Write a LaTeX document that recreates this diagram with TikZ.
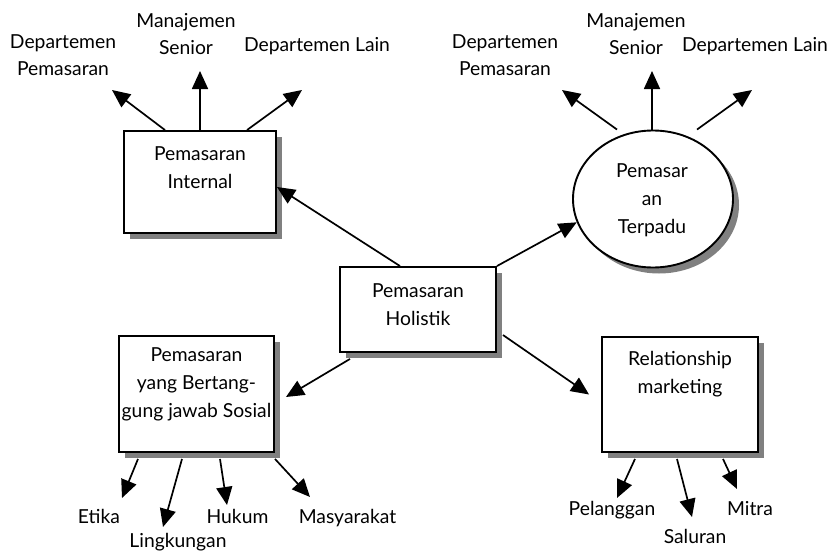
\documentclass[tikz,border=0pt]{standalone}
\usepackage{fontspec}
\setmainfont{Lato}
\usetikzlibrary{arrows.meta,shapes.geometric,shadows,calc}
\begin{document}
\begin{tikzpicture}[x=1pt,y=-1pt,
  every node/.style={font=\fontsize{19.3}{27.8}\selectfont, inner sep=0pt},
  boxshape/.style={draw, line width=1.9pt, fill=white,
    general shadow={fill=black!50, shadow xshift=6pt, shadow yshift=-6pt}},
  txt/.style={anchor=base, align=center},
  arr/.style={line width=1.7pt, -{Triangle[length=18pt,width=16pt]}}]
\useasboundingbox (0,0) rectangle (838,551);

% boxes
\node[boxshape, rectangle, minimum width=152pt, minimum height=102pt] (intl) at (200,182) {};
\node[boxshape, rectangle, minimum width=156pt, minimum height=85pt] (hol) at (418,309.5) {};
\node[boxshape, rectangle, minimum width=155pt, minimum height=116pt] (bs) at (196.5,394) {};
\node[boxshape, rectangle, minimum width=156pt, minimum height=115pt] (rel) at (680,394.5) {};
\node[boxshape, ellipse, minimum width=160pt, minimum height=137pt,
  general shadow={fill=black!50, shadow xshift=5pt, shadow yshift=-5pt}] (circ) at (653,199) {};

% box texts (anchored at the baseline of the last line)
\node[txt] (intlT) at (200,188) {Pemasaran\\Internal};
\node[txt] (holT) at (418,325) {Pemasaran\\Holistik};
\node[txt] (circT) at (652,233) {Pemasar\\an\\Terpadu};
\node[txt] (bsT) at (196.5,417) {Pemasaran\\yang Bertang-\\gung jawab Sosial};
\node[txt] (relT) at (680,393) {Relationship\\marketing};

% labels
\node[txt] (d1) at (63,76) {Departemen\\Pemasaran};
\node[txt] (m1) at (186,55) {Manajemen\\Senior};
\node[txt] (l1) at (317,52) {Departemen Lain};
\node[txt] (d2) at (505,76) {Departemen\\Pemasaran};
\node[txt] (m2) at (636,55) {Manajemen\\Senior};
\node[txt] (l2) at (755,52) {Departemen Lain};
\node[txt] (etika) at (99,523) {Etika};
\node[txt] (ling) at (178,547) {Lingkungan};
\node[txt] (hukum) at (237.5,523) {Hukum};
\node[txt] (masy) at (347.5,523) {Masyarakat};
\node[txt] (pel) at (612,515) {Pelanggan};
\node[txt] (sal) at (695,543) {Saluran};
\node[txt] (mitra) at (750,515) {Mitra};

% arrow end points
\coordinate (e1) at (112,90);
\coordinate (e2) at (200,71);
\coordinate (e3) at (302,90);
\coordinate (e4) at (562,90);
\coordinate (e5) at (652,71);
\coordinate (e6) at (752,90);
\coordinate (e7) at (122,498);
\coordinate (e8) at (163,527);
\coordinate (e9) at (227,505);
\coordinate (e10) at (310,497);
\coordinate (e11) at (617,498);
\coordinate (e12) at (692,517);
\coordinate (e13) at (737,489);

% internal marketing arrows
\draw[arr] ([xshift=-35pt]intl.north) -- (e1);
\draw[arr] (intl.north) -- (e2);
\draw[arr] ([xshift=47pt]intl.north) -- (e3);

% integrated marketing arrows
\draw[arr] ([xshift=-36pt]circ.north) -- (e4);
\draw[arr] ([xshift=-1pt]circ.north) -- (e5);
\draw[arr] ([xshift=44pt]circ.north) -- (e6);

% social responsibility arrows
\draw[arr] ([xshift=-58.5pt,yshift=-6pt]bs.south) -- (e7);
\draw[arr] ([xshift=-14.5pt,yshift=-6pt]bs.south) -- (e8);
\draw[arr] ([xshift=23.5pt,yshift=-6pt]bs.south) -- (e9);
\draw[arr] ([xshift=78.5pt,yshift=-6pt]bs.south) -- (e10);

% relationship arrows
\draw[arr] ([xshift=-45pt,yshift=-6pt]rel.south) -- (e11);
\draw[arr] ([xshift=-3pt,yshift=-6pt]rel.south) -- (e12);
\draw[arr] ([xshift=43pt,yshift=-6pt]rel.south) -- (e13);

% central arrows
\draw[arr] ([xshift=-18pt]hol.north) -- ([yshift=-5pt]intl.east);
\draw[arr] (hol.north east) -- (circ.197);
\draw[arr] ([xshift=-68pt,yshift=-6pt]hol.south) -- ([xshift=11pt,yshift=-3pt]bs.east);
\draw[arr] ([xshift=6pt,yshift=-25.5pt]hol.east) -- ([xshift=-12pt]rel.west);
\end{tikzpicture}
\end{document}
